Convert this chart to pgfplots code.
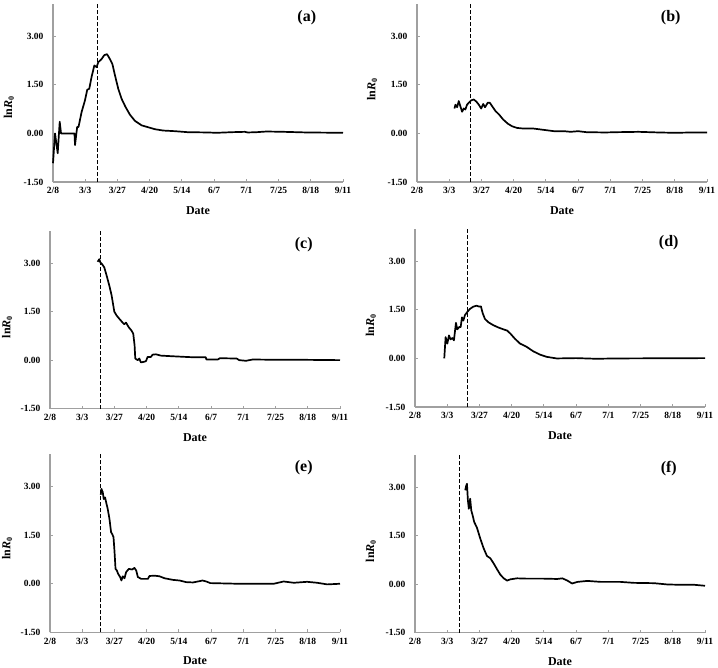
\documentclass[border=0pt]{standalone}
\usepackage{fontspec}
\setmainfont{Liberation Serif}
\usepackage{pgfplots}
\pgfplotsset{compat=1.18}
\definecolor{axgray}{RGB}{160,160,160}
\pgfplotsset{panel/.style={
  scale only axis, width=290pt, height=178pt,
  xmin=0, xmax=216, ymin=-1.5, ymax=4,
  axis x line=bottom, axis y line=left,
  axis line style={axgray, line width=1.4pt, -},
  xtick={0,24,...,216},
  xticklabels={2/8,3/3,3/27,4/20,5/14,6/7,7/1,7/25,8/18,9/11},
  ytick={-1.5,0,1.5,3},
  yticklabel style={/pgf/number format/fixed, /pgf/number format/fixed zerofill, /pgf/number format/precision=2, xshift=-6pt},
  xticklabel style={yshift=-2pt},
  /pgf/number format/assume math mode=true,
  ticklabel style={font=\bfseries\fontsize{9.5}{10}\selectfont},
  major tick length=3pt, tick style={axgray, line width=1pt},
  tick align=inside,
  xlabel={Date}, ylabel={ln\textit{R}\textsubscript{0}},
  label style={font=\bfseries\fontsize{12}{13}\selectfont},
  xlabel style={at={(axis description cs:0.5,-0.16)}, anchor=center},
  clip=false,
},
curve/.style={black, line width=1.7pt, line join=round, mark=none},
vline/.style={black, line width=1.1pt, dash pattern=on 4pt off 2pt, mark=none},
}
\newcommand{\plab}[1]{\node[font=\bfseries\fontsize{16}{18}\selectfont] at (axis cs:189,3.58) {#1};}
\begin{document}
\begin{tikzpicture}
\useasboundingbox (0pt,0pt) rectangle (718pt,668pt);
% (a)
\begin{axis}[panel, at={(53pt,486pt)}, anchor=south west,
  ylabel style={at={(axis description cs:-0.152,0.42)}, anchor=center}]
\addplot[vline] coordinates {(33,-1.5) (33,4)};
\addplot[curve] coordinates {
(0,-0.92) (1.5,0.0) (3.5,-0.61) (5,0.36) (6,0.0) (16,0.0) (16.4,-0.36) (18,0.2) (19,0.2)
(21.3,0.66) (23.8,1.02) (25.5,1.35) (27,1.38) (28.8,1.76) (30.8,2.1) (32.5,2.05) (33.7,2.2)
(36.2,2.3) (38.2,2.42) (40.2,2.45) (41.7,2.35) (44.2,2.15) (46.2,1.79) (48.6,1.38) (51.1,1.07)
(54,0.82) (57.3,0.58) (61,0.39) (66,0.25) (71,0.19) (76,0.13) (82,0.09) (90.8,0.07) (100,0.04)
(115,0.03) (122,0.02) (134,0.04) (143,0.05) (145,0.03) (152,0.04) (159,0.06) (172,0.05)
(189,0.03) (216,0.02)};
\plab{(a)}
\end{axis}
% (b)
\begin{axis}[panel, at={(417pt,486pt)}, anchor=south west,
  ylabel style={at={(axis description cs:-0.155,0.52)}, anchor=center}]
\addplot[vline] coordinates {(40,-1.5) (40,4)};
\addplot[curve] coordinates {
(27.9,0.77) (28.6,0.89) (29.9,0.81) (31.1,1.0) (32.3,0.84) (33.6,0.67) (34.8,0.77) (36,0.74)
(37.3,0.89) (38.6,0.95) (40.3,1.02) (42.3,1.05) (44.3,0.98) (46,0.89) (47.8,0.77) (49.3,0.91)
(50.7,0.81) (52.7,0.95) (54.2,0.95) (56,0.84) (58.5,0.69) (61,0.59) (64.2,0.43) (67.7,0.30)
(70.9,0.22) (74.6,0.17) (79.6,0.15) (87,0.15) (94.5,0.11) (102,0.07) (109.5,0.07) (114.4,0.05)
(120,0.07) (126,0.04) (140,0.03) (150,0.04) (165,0.05) (180,0.03) (192,0.02) (205,0.03) (216,0.03)};
\plab{(b)}
\end{axis}
% (c)
\begin{axis}[panel, at={(50pt,259.3pt)}, anchor=south west,
  ylabel style={at={(axis description cs:-0.148,0.46)}, anchor=center}]
\addplot[vline] coordinates {(37.5,-1.5) (37.5,4)};
\addplot[curve] coordinates {
(35.5,3.04) (36.7,3.12) (37.5,3.02) (38.7,2.97) (40.4,2.87) (42.2,2.61) (44.2,2.30) (45.9,2.0)
(47.9,1.5) (49.6,1.38) (51.6,1.28) (54.1,1.16) (55.3,1.11) (56.6,1.16) (58.6,1.02) (60.6,0.92)
(62,0.82) (63,0.46) (63.5,0.05) (65.3,0.0) (66.5,0.05) (67.7,-0.07) (70.2,-0.05) (71.5,-0.03)
(72.7,0.1) (75.2,0.1) (76.4,0.17) (78.9,0.18) (82.6,0.14) (91.3,0.12) (101,0.10) (106,0.09)
(116,0.09) (116.5,0.02) (125,0.02) (126.5,0.06) (139,0.05) (141,0.0) (146,-0.02) (151,0.02)
(170,0.01) (190,0.01) (216,0.0)};
\plab{(c)}
\end{axis}
% (d)
\begin{axis}[panel, at={(415pt,261pt)}, anchor=south west,
  ylabel style={at={(axis description cs:-0.152,0.46)}, anchor=center}]
\addplot[vline] coordinates {(39,-1.5) (39,4)};
\addplot[curve] coordinates {
(21.8,0) (22.8,0.66) (24.1,0.46) (25.3,0.71) (26.5,0.59) (27.8,0.63) (29,0.56) (30.5,1.10)
(31.5,0.9) (33,0.97) (34,0.97) (35,1.27) (36,1.17) (37.2,1.34) (39,1.44) (40.9,1.53) (43.4,1.60)
(45.9,1.63) (47.9,1.60) (49.1,1.61) (50.4,1.40) (52.1,1.22) (54.6,1.12) (57.8,1.04) (61.3,0.97)
(65.8,0.90) (68.7,0.86) (71.2,0.76) (74.4,0.61) (78.2,0.46) (83.1,0.36) (88.1,0.22) (93,0.12)
(98,0.05) (105.5,0.0) (120,0.01) (135,-0.01) (150,0.0) (216,0.01)};
\plab{(d)}
\end{axis}
% (e)
\begin{axis}[panel, at={(50pt,35.7pt)}, anchor=south west,
  ylabel style={at={(axis description cs:-0.148,0.47)}, anchor=center}]
\addplot[vline] coordinates {(37.6,-1.5) (37.6,4)};
\addplot[curve] coordinates {
(37.8,2.75) (38.3,2.93) (39.3,2.83) (40,2.62) (41,2.67) (41.8,2.52) (43,2.31) (44.3,2.0) (45.5,1.59)
(46.3,1.54) (47.3,1.44) (48,1.03) (48.8,0.46) (49.8,0.41) (50.7,0.31) (52.2,0.21) (53.2,0.10)
(54.2,0.23) (55.5,0.17) (56.7,0.36) (58.7,0.46) (61.2,0.44) (62.9,0.49) (64.2,0.41) (65.4,0.21)
(67.9,0.15) (72.9,0.15) (74.1,0.24) (77.9,0.25) (81.6,0.23) (85.3,0.17) (91.5,0.12) (96.5,0.10)
(101.5,0.05) (106.5,0.04) (111.4,0.08) (113.5,0.10) (116.4,0.07) (119.4,0.02) (140,0.0)
(166.7,0.0) (174,0.07) (181.6,0.03) (191.5,0.06) (199,0.03) (206.5,-0.02) (216,0.0)};
\plab{(e)}
\end{axis}
% (f)
\begin{axis}[panel, at={(415pt,35.3pt)}, anchor=south west,
  ylabel style={at={(axis description cs:-0.152,0.46)}, anchor=center}]
\addplot[vline] coordinates {(32.9,-1.5) (32.9,4)};
\addplot[curve] coordinates {
(37.4,2.90) (38.2,3.05) (38.7,3.1) (39.4,2.59) (40.1,2.33) (41.1,2.64) (41.9,2.28) (42.9,2.13)
(44.1,1.92) (46.1,1.75) (48.6,1.41) (51.1,1.11) (53.6,0.87) (56.1,0.80) (58.6,0.64) (61.1,0.46)
(63.6,0.29) (66.1,0.18) (68.6,0.11) (71.1,0.15) (76.1,0.18) (83.5,0.17) (96,0.17) (106,0.16)
(109.7,0.18) (113.5,0.11) (117,0.02) (121,0.07) (128.4,0.10) (138.4,0.07) (153,0.07) (163,0.04)
(178,0.03) (188,-0.01) (198,-0.02) (208,-0.02) (216,-0.05)};
\plab{(f)}
\end{axis}
\end{tikzpicture}
\end{document}
